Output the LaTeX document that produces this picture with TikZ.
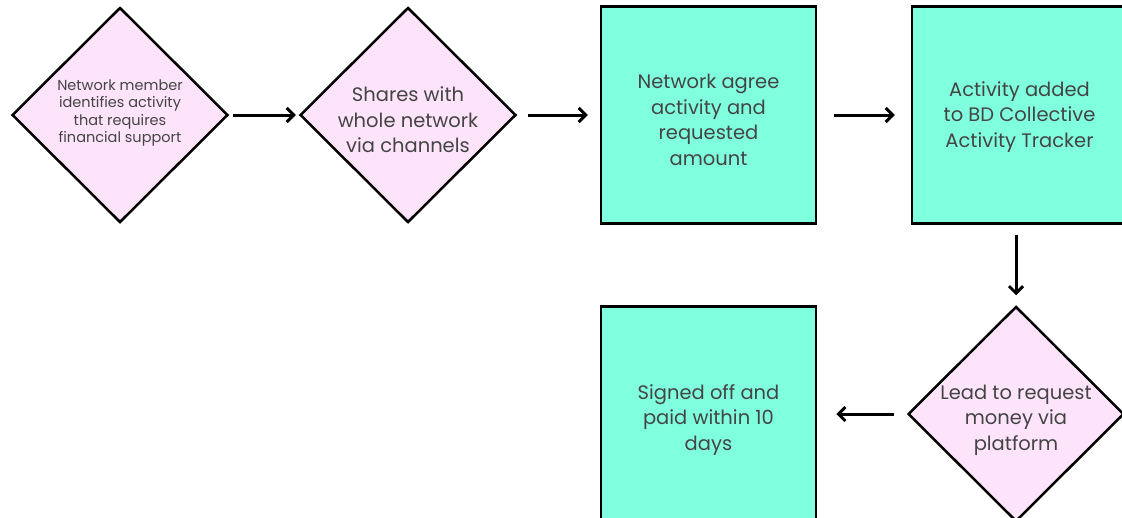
\documentclass[tikz,border=0pt]{standalone}
\usepackage{fontspec}
\setmainfont{Poppins}
\usetikzlibrary{shapes.geometric,arrows.meta}
\definecolor{pinkfill}{HTML}{FDE4FB}
\definecolor{aqua}{HTML}{80FFDF}
\definecolor{txt}{HTML}{444444}
\begin{document}
\begin{tikzpicture}[x=1pt,y=-1pt,
  dia/.style={shape=diamond,draw=black,line width=2.5pt,fill=pinkfill,minimum width=216pt,minimum height=215pt,inner sep=0pt},
  box/.style={draw=black,line width=2.5pt,fill=aqua,minimum width=215pt,minimum height=217pt,inner sep=0pt},
  lbl/.style={align=center,text=txt,font=\fontsize{19.5}{25.5}\selectfont},
  slbl/.style={align=center,text=txt,font=\fontsize{14.5}{17.5}\selectfont},
  arr/.style={line width=3pt,-{Straight Barb[length=7pt,width=14pt]}}]
\clip (0,0) rectangle (1122,517);
\fill[white] (0,0) rectangle (1122,517);
\node[dia] (d1) at (120,115) {};
\node[dia] (d2) at (408,115) {};
\node[box] (b1) at (708.5,115) {};
\node[box] (b2) at (1019.5,115) {};
\node[dia] (d3) at (1016,414) {};
\node[box] (b3) at (708.5,415) {};
\node[slbl] (t1) at (120,113) {Network member\\identifies activity\\that requires\\financial support};
\node[lbl] (t2) at (408,120) {Shares with\\whole network\\via channels};
\node[lbl] (t3) at (708.5,120) {Network agree\\activity and\\requested\\amount};
\node[lbl] (t4) at (1019.5,117) {Activity added\\to BD Collective\\Activity Tracker};
\node[lbl] (t5) at (1016,420) {Lead to request\\money via\\platform};
\node[lbl] (t6) at (708.5,420) {Signed off and\\paid within 10\\days};
\draw[arr,shorten <=4pt,shorten >=3pt] (d1.east) -- (d2.west);
\draw[arr,shorten <=11pt,shorten >=12pt] (d2.east) -- (b1.west);
\draw[arr,shorten <=17pt,shorten >=16pt] (b1.east) -- (b2.west);
\draw[arr,shorten <=10pt,shorten >=10pt] (d3.north |- b2.south) -- (d3.north);
\draw[arr,shorten <=13pt,shorten >=19pt] (d3.west) -- (d3.west -| b3.east);
\end{tikzpicture}
\end{document}
